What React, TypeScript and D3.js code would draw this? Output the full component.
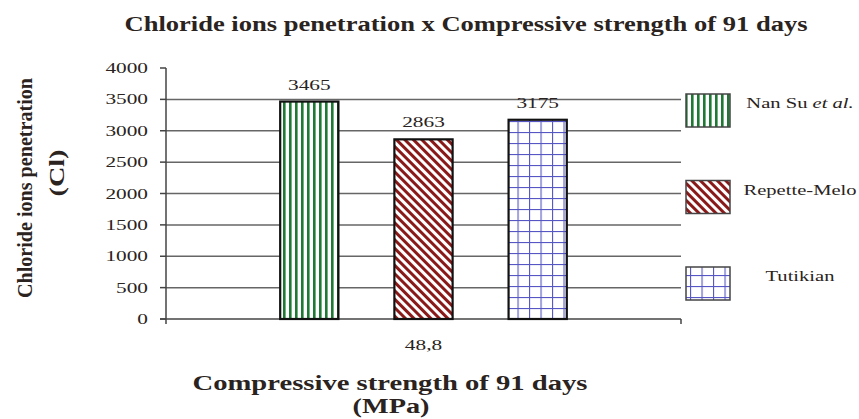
import React from 'react';
import * as d3 from 'd3';

const categories = ['48,8'];
const seriesNames = ['Nan Su', 'Repette-Melo', 'Tutikian'];
const seriesValues = [3465, 2863, 3175];
const yTicks = [0, 500, 1000, 1500, 2000, 2500, 3000, 3500, 4000];

const W = 859;
const H = 419;
const margin = { top: 68, right: 178, bottom: 99, left: 166 };
const SX = 1.42; // the source picture is stretched sideways
const textColor = '#2a2320';
const serif = '"Liberation Serif", "Times New Roman", serif';
const patternIds = ['pat-vert', 'pat-diag', 'pat-grid'];

const T: React.FC<{ x: number; y: number; size: number; bold?: boolean; anchor?: string; children: React.ReactNode }> = ({ x, y, size, bold, anchor = 'middle', children }) => (
  <text
    transform={`translate(${x},${y}) scale(${SX},1)`}
    textAnchor={anchor}
    fontFamily={serif}
    fontSize={size}
    fontWeight={bold ? 'bold' : 'normal'}
    fill={textColor}
  >
    {children}
  </text>
);

const App: React.FC = () => {
  const x0 = margin.left;
  const x1 = W - margin.right;
  const yBase = H - margin.bottom - 1;

  const xScale = d3.scaleBand().domain(categories).range([x0, x1]);
  const inner = d3
    .scaleBand()
    .domain(seriesNames)
    .range([0, xScale.bandwidth()])
    .paddingInner(0.49)
    .paddingOuter(1.0);
  const yScale = d3.scaleLinear().domain([0, 4000]).range([yBase, margin.top]);
  const legendY = d3.scalePoint().domain(seriesNames).range([110, 283]);

  return (
    <svg width={W} height={H} style={{ position: 'absolute', left: 0, top: 0, background: '#fff' }}>
      <defs>
        <pattern id="pat-vert" patternUnits="userSpaceOnUse" width={6} height={6}>
          <rect width={6} height={6} fill="#fff" />
          <rect x={1} width={2.6} height={6} fill="#1d7a33" />
        </pattern>
        <pattern id="pat-diag" patternUnits="userSpaceOnUse" width={6} height={6} patternTransform="rotate(-45)">
          <rect width={6} height={6} fill="#fff" />
          <rect x={0} width={3} height={6} fill="#8a1a1a" />
        </pattern>
        <pattern id="pat-grid" patternUnits="userSpaceOnUse" width={11.5} height={11}>
          <rect width={11.5} height={11} fill="#fff" />
          <line x1={0.5} y1={0} x2={0.5} y2={11} stroke="#5656c4" strokeWidth={1.2} />
          <line x1={0} y1={0.5} x2={11.5} y2={0.5} stroke="#5656c4" strokeWidth={1.2} />
        </pattern>
      </defs>

      {/* title */}
      <text x={466} y={31} textAnchor="middle" fontFamily={serif} fontSize={20} fontWeight="bold" fill={textColor} textLength={683} lengthAdjust="spacingAndGlyphs">
        Chloride ions penetration x Compressive strength of 91 days
      </text>

      {/* grid lines */}
      {yTicks.filter((t) => t > 0 && t < 4000).map((t) => (
        <line key={'g' + t} x1={x0} x2={x1} y1={yScale(t)} y2={yScale(t)} stroke="#666" strokeWidth={1.5} />
      ))}

      {/* y axis */}
      <line x1={x0} x2={x0} y1={yScale(4000)} y2={yBase + 5} stroke="#444" strokeWidth={1.5} />
      {yTicks.map((t) => (
        <g key={'t' + t}>
          <line x1={x0 - 6} x2={x0} y1={yScale(t)} y2={yScale(t)} stroke="#444" strokeWidth={1.5} />
          <T x={148} y={yScale(t) + 5} size={15} anchor="end">{t}</T>
        </g>
      ))}

      {/* x axis */}
      <line x1={x0 - 6} x2={x1} y1={yBase} y2={yBase} stroke="#444" strokeWidth={1.5} />
      <line x1={x1} x2={x1} y1={yBase} y2={yBase + 5} stroke="#444" strokeWidth={1.5} />
      {categories.map((c) => (
        <T key={c} x={xScale(c)! + xScale.bandwidth() / 2} y={350} size={15}>{c}</T>
      ))}

      {/* bars */}
      {categories.map((c) =>
        seriesNames.map((s, i) => {
          const bx = xScale(c)! + inner(s)!;
          const by = yScale(seriesValues[i]);
          return (
            <g key={c + s}>
              <rect x={bx} y={by} width={inner.bandwidth()} height={yBase - by} fill={`url(#${patternIds[i]})`} stroke="#111" strokeWidth={2.2} />
              <T x={bx + inner.bandwidth() / 2} y={by - 12} size={15}>{seriesValues[i]}</T>
            </g>
          );
        })
      )}

      {/* legend */}
      {seriesNames.map((s, i) => {
        const cy = legendY(s)!;
        return (
          <g key={'l' + s}>
            <rect x={686} y={cy - 16} width={44} height={33} fill={`url(#${patternIds[i]})`} stroke="#444" strokeWidth={1.5} />
            <T x={800} y={cy - 2} size={14.5}>
              {s}
              {i === 0 ? <tspan fontStyle="italic"> et al.</tspan> : null}
            </T>
          </g>
        );
      })}

      {/* axis titles */}
      <text x={390} y={390} textAnchor="middle" fontFamily={serif} fontSize={20} fontWeight="bold" fill={textColor} textLength={395} lengthAdjust="spacingAndGlyphs">
        Compressive strength of 91 days
      </text>
      <text x={391} y={413} textAnchor="middle" fontFamily={serif} fontSize={20} fontWeight="bold" fill={textColor} textLength={77} lengthAdjust="spacingAndGlyphs">
        (MPa)
      </text>
      <text transform="translate(32,188) rotate(-90)" textAnchor="middle" fontFamily={serif} fontSize={20} fontWeight="bold" fill={textColor} textLength={220} lengthAdjust="spacingAndGlyphs">
        Chloride ions penetration
      </text>
      <text transform="translate(64,173) rotate(-90)" textAnchor="middle" fontFamily={serif} fontSize={20} fontWeight="bold" fill={textColor} textLength={47} lengthAdjust="spacingAndGlyphs">
        (Cl)
      </text>
    </svg>
  );
};

export default App;
